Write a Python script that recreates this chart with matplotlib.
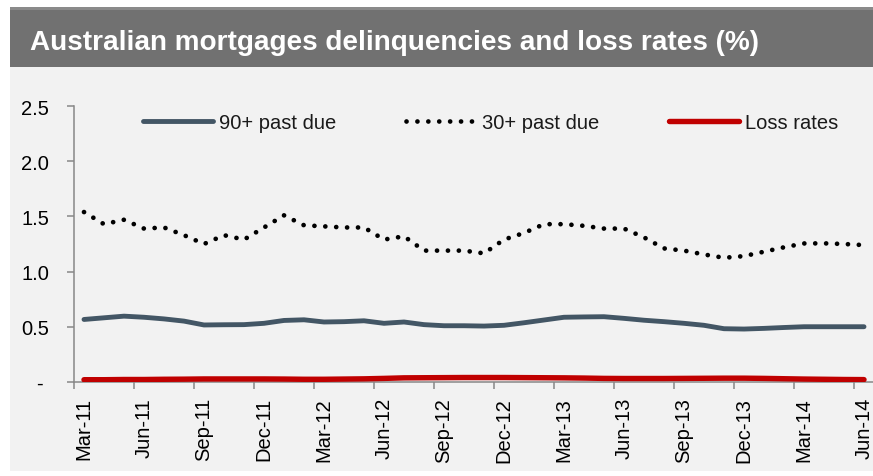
import numpy as np
import matplotlib
matplotlib.use("Agg")
import matplotlib.pyplot as plt
from matplotlib.patches import Rectangle

# monthly categories Mar-11 .. Jun-14
months = ["Mar", "Apr", "May", "Jun", "Jul", "Aug", "Sep", "Oct", "Nov", "Dec", "Jan", "Feb"]
categories = []
for i in range(40):
    m = months[i % 12]
    yr = 11 + (i + 2) // 12
    categories.append(f"{m}-{yr}")

past_due_90 = [0.565, 0.58, 0.595, 0.585, 0.57, 0.55, 0.515, 0.517, 0.518, 0.53,
               0.556, 0.562, 0.542, 0.545, 0.553, 0.53, 0.542, 0.518, 0.508, 0.508,
               0.505, 0.512, 0.535, 0.56, 0.585, 0.588, 0.59, 0.575, 0.558, 0.545,
               0.53, 0.512, 0.481, 0.478, 0.484, 0.492, 0.499, 0.499, 0.499, 0.499]

past_due_30 = [1.54, 1.43, 1.47, 1.39, 1.40, 1.33, 1.25, 1.33, 1.29, 1.40,
               1.51, 1.42, 1.41, 1.40, 1.40, 1.29, 1.32, 1.19, 1.19, 1.19,
               1.165, 1.29, 1.35, 1.43, 1.43, 1.415, 1.39, 1.39, 1.31, 1.21,
               1.19, 1.155, 1.125, 1.14, 1.18, 1.22, 1.255, 1.256, 1.25, 1.24]

loss_rates = [0.018, 0.018, 0.02, 0.02, 0.022, 0.023, 0.025, 0.025, 0.025, 0.025,
              0.024, 0.022, 0.022, 0.024, 0.026, 0.03, 0.035, 0.036, 0.037, 0.038,
              0.038, 0.038, 0.037, 0.036, 0.035, 0.033, 0.03, 0.029, 0.029, 0.029,
              0.03, 0.031, 0.032, 0.032, 0.03, 0.027, 0.024, 0.022, 0.02, 0.019]

y_ticks = [0, 0.5, 1.0, 1.5, 2.0, 2.5]
y_labels = ["- ", "0.5", "1.0", "1.5", "2.0", "2.5"]

W, H = 873, 477
FS = 14.5
plt.rcParams.update({
    "font.family": ["Liberation Sans", "DejaVu Sans"],
    "font.size": FS,
    "text.color": "#1a1a1a",
})

fig = plt.figure(figsize=(W / 100, H / 100), dpi=100)
fig.patch.set_facecolor("white")

# light gray panel and title bar
fig.patches.append(Rectangle((9.5 / W, 1 - 471.7 / H), 1, (471.7 - 68) / H,
                             transform=fig.transFigure, facecolor="#f2f2f2",
                             edgecolor="none", zorder=-5))
fig.patches.append(Rectangle((9.5 / W, 1 - 68 / H), 1, 60 / H,
                             transform=fig.transFigure, facecolor="#717171",
                             edgecolor="none", zorder=-5))
fig.patches.append(Rectangle((9.5 / W, 1 - 11 / H), 1, 3 / H,
                             transform=fig.transFigure, facecolor="#8a8a8a",
                             edgecolor="none", zorder=-4))
fig.text(30 / W, 1 - 43 / H, "Australian mortgages delinquencies and loss rates (%)",
         color="white", fontsize=20.1, fontweight="bold", va="center", ha="left")

ax = fig.add_axes([74 / W, 1 - 382.7 / H, 800 / W, (382.7 - 107.3) / H])
ax.set_facecolor("none")
ax.set_zorder(2)

x = np.arange(len(categories))
ax.plot(x, past_due_90, color="#435665", lw=3.5, solid_capstyle="round",
        solid_joinstyle="round", label="90+ past due", zorder=3)
ax.plot(x, past_due_30, color="black", lw=3.4, linestyle=(0, (0.01, 2.3)),
        dash_capstyle="round", label="30+ past due", zorder=3)
ax.plot(x, loss_rates, color="#c00000", lw=3.9, solid_capstyle="round",
        label="Loss rates", zorder=4)

ax.set_xlim(-0.5, len(categories) - 0.5)
ax.set_ylim(0, 2.5)

ax.set_yticks(y_ticks)
ax.set_yticklabels(y_labels)
ax.set_xticks(np.arange(-0.5, len(categories) - 1, 3))
ax.set_xticklabels([])
ax.set_xticks(np.arange(0, len(categories), 3), minor=True)
ax.set_xticklabels([categories[i] for i in range(0, len(categories), 3)],
                   minor=True, rotation=90)
ax.tick_params(axis="x", which="major", length=5, width=1.1, color="#888888", direction="out")
ax.tick_params(axis="x", which="minor", length=0, pad=11)
ax.tick_params(axis="y", length=5, width=1.1, color="#888888", pad=13)

for s in ["top", "right"]:
    ax.spines[s].set_visible(False)
for s in ["left", "bottom"]:
    ax.spines[s].set_color("#888888")
    ax.spines[s].set_linewidth(1.1)

ax.legend(loc="upper left", bbox_to_anchor=(61 / 800, 1.005), ncol=3, frameon=False,
          handlelength=3.48, handletextpad=0.3, columnspacing=3.45, fontsize=FS,
          borderaxespad=0)

fig.savefig("out.png", dpi=100)
